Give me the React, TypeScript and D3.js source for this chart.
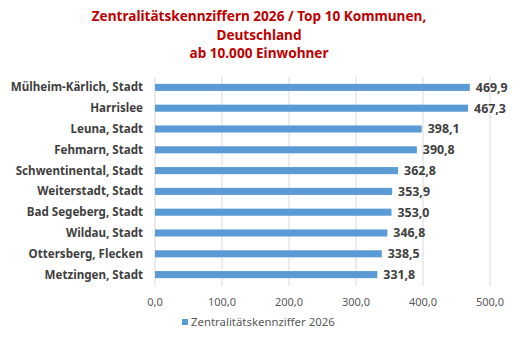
import { useEffect, useRef } from 'react'
import * as d3 from 'd3'

const kommunen = [
  'Mülheim-Kärlich, Stadt',
  'Harrislee',
  'Leuna, Stadt',
  'Fehmarn, Stadt',
  'Schwentinental, Stadt',
  'Weiterstadt, Stadt',
  'Bad Segeberg, Stadt',
  'Wildau, Stadt',
  'Ottersberg, Flecken',
  'Metzingen, Stadt',
]
const kennziffern = [469.9, 467.3, 398.1, 390.8, 362.8, 353.9, 353.0, 346.8, 338.5, 331.8]
const xTicks = [0, 100, 200, 300, 400, 500]
const titelZeilen = [
  'Zentralitätskennziffern 2026 / Top 10 Kommunen,',
  'Deutschland',
  'ab 10.000 Einwohner',
]
const legendeText = 'Zentralitätskennziffer 2026'

const fmt = (v: number) => v.toFixed(1).replace('.', ',')

const App = () => {
  const ref = useRef<SVGSVGElement>(null)

  useEffect(() => {
    if (!ref.current) return
    const svg = d3.select(ref.current)
    svg.selectAll('*').remove()

    const width = 517
    const height = 345
    const font = 'Noto Sans, sans-serif'

    svg.append('rect').attr('width', width).attr('height', height).attr('fill', '#fff')

    // Titel
    svg.selectAll('.titel')
      .data(titelZeilen)
      .enter()
      .append('text')
      .attr('x', 259)
      .attr('y', (_, i) => 21 + i * 18.5)
      .attr('text-anchor', 'middle')
      .style('font-family', font)
      .style('font-weight', 'bold')
      .style('font-size', '13.6px')
      .style('fill', '#c00000')
      .text(d => d)

    const x = d3.scaleLinear().domain([0, 500]).range([155, 490])
    const y = d3.scaleBand().domain(kommunen).range([77, 285]).paddingInner(0.66).paddingOuter(0.33)

    // Gitterlinien
    svg.selectAll('.grid')
      .data(xTicks)
      .enter()
      .append('line')
      .attr('x1', d => x(d))
      .attr('x2', d => x(d))
      .attr('y1', 77)
      .attr('y2', 286)
      .attr('stroke', '#d9d9d9')
      .attr('stroke-width', 1)

    // Achsenbeschriftung
    svg.selectAll('.tick')
      .data(xTicks)
      .enter()
      .append('text')
      .attr('x', d => x(d))
      .attr('y', 306)
      .attr('text-anchor', 'middle')
      .style('font-family', font)
      .style('font-size', '11px')
      .style('fill', '#595959')
      .text(d => fmt(d))

    const rows = kommunen.map((k, i) => ({ k, v: kennziffern[i] }))

    // Balken
    svg.selectAll('.bar')
      .data(rows)
      .enter()
      .append('rect')
      .attr('x', x(0))
      .attr('y', d => y(d.k)!)
      .attr('width', d => x(d.v) - x(0))
      .attr('height', y.bandwidth())
      .attr('fill', '#5b9bd5')

    // Kategorien
    svg.selectAll('.kat')
      .data(rows)
      .enter()
      .append('text')
      .attr('x', 143)
      .attr('y', d => y(d.k)! + y.bandwidth() / 2)
      .attr('dy', '0.35em')
      .attr('text-anchor', 'end')
      .style('font-family', font)
      .style('font-weight', 'bold')
      .style('font-size', '11.6px')
      .style('fill', '#404040')
      .text(d => d.k)

    // Werte
    svg.selectAll('.wert')
      .data(rows)
      .enter()
      .append('text')
      .attr('x', d => x(d.v) + 6)
      .attr('y', d => y(d.k)! + y.bandwidth() / 2)
      .attr('dy', '0.35em')
      .style('font-family', font)
      .style('font-weight', 'bold')
      .style('font-size', '12.4px')
      .style('fill', '#404040')
      .text(d => fmt(d.v))

    // Legende
    svg.append('rect')
      .attr('x', 182)
      .attr('y', 319)
      .attr('width', 6)
      .attr('height', 6)
      .attr('fill', '#5b9bd5')
    svg.append('text')
      .attr('x', 191)
      .attr('y', 326)
      .style('font-family', font)
      .style('font-size', '11.4px')
      .style('fill', '#595959')
      .text(legendeText)
  }, [])

  return (
    <svg
      ref={ref}
      width={517}
      height={345}
      style={{ position: 'absolute', left: 0, top: 0 }}
    />
  )
}

export default App
